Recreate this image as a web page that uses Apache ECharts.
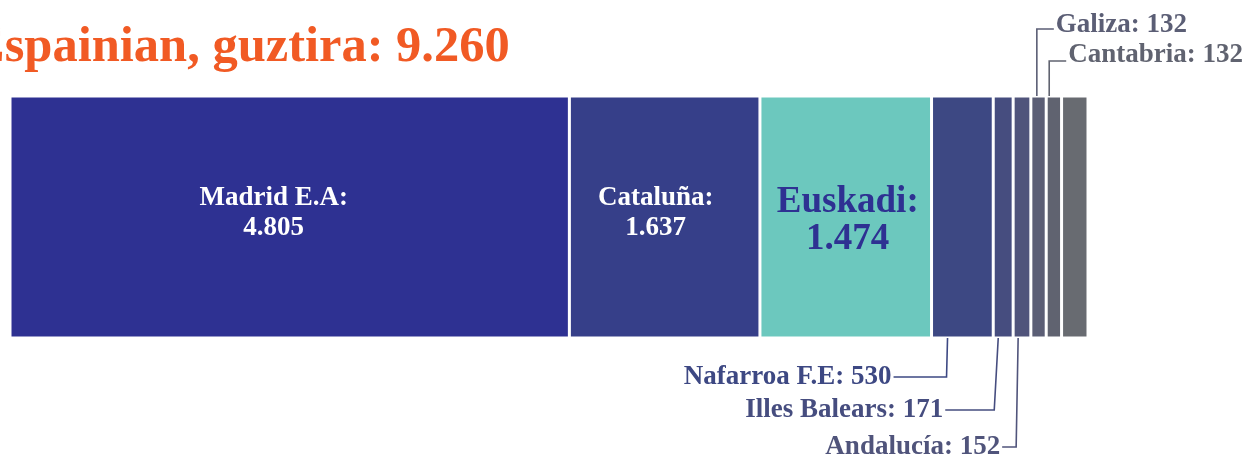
<!DOCTYPE html>
<html><head><meta charset="utf-8">
<script src="https://cdn.jsdelivr.net/npm/echarts@6/dist/echarts.min.js"></script>
<style>html,body{margin:0;padding:0;background:#fff;overflow:hidden}#c{width:1250px;height:460px}</style>
</head><body><div id="c"></div>
<script>
// ---- data ----
const titleText = 'Espainian, guztira: 9.260';
const total = 9260;
const regions = ['Madrid E.A', 'Cataluña', 'Euskadi', 'Nafarroa F.E', 'Illes Balears', 'Andalucía', 'Galiza', 'Cantabria', 'Beste'];
const values = [4805, 1637, 1474, 530, 171, 152, 132, 132, 227];

// ---- styles ----
const FONT = 'Liberation Serif';
const colors = ['#2e3192', '#363f89', '#6cc8be', '#3d4883', '#464d7f', '#50547b', '#5b5e75', '#606370', '#686b71'];
const GRID = { left: 10, right: 162, top: 96, bottom: 122 };
// inner labels (index -> style)
const inner = {
  0: { color: '#fff', fontSize: 27, lineHeight: 30, offset: [-16, -4] },
  1: { color: '#fff', fontSize: 27, lineHeight: 30, offset: [-9, -4] },
  2: { color: '#2e3192', fontSize: 37, lineHeight: 37, offset: [2, 4] }
};
// outer labels: side, line y, anchor offset from segment start, bottom slant, text gap
const outer = {
  3: { side: 'bottom', y: 377, dx: 16, slant: -1, gap: -55 },
  4: { side: 'bottom', y: 410, dx: 5, slant: -4, gap: -51 },
  5: { side: 'bottom', y: 447, dx: 5, slant: -2, gap: -16 },
  6: { side: 'top', y: 29, dx: 6, slant: 0, gap: 19, ty: -4 },
  7: { side: 'top', y: 61, dx: 3, slant: 0, gap: 19, ty: -6 }
};

function fmt(v) { return String(v).replace(/\B(?=(\d{3})+(?!\d))/g, '.'); }

const chart = echarts.init(document.getElementById('c'), null, { renderer: 'canvas' });
const series = regions.map((name, i) => ({
  type: 'bar', name: name, stack: 'total', barWidth: '100%',
  data: [values[i]],
  itemStyle: { color: colors[i], borderColor: '#fff', borderWidth: 1.5 },
  label: inner[i] ? {
    show: true, position: 'inside', fontFamily: FONT, fontWeight: 'bold',
    color: inner[i].color, fontSize: inner[i].fontSize, lineHeight: inner[i].lineHeight,
    offset: inner[i].offset, align: 'center',
    formatter: p => p.seriesName + ':\n' + fmt(p.value)
  } : { show: false }
}));

chart.setOption({
  animation: false,
  backgroundColor: '#fff',
  grid: GRID,
  xAxis: { type: 'value', min: 0, max: total, show: false },
  yAxis: { type: 'category', data: ['Espainia'], show: false },
  series: series
});

// leader lines + outer labels built from the axis scale
const graphics = [{
  type: 'text', x: -29, y: 48,
  style: { text: titleText, fill: '#f15a24', fontFamily: FONT, fontWeight: 'bold', fontSize: 50.5, textAlign: 'left', textVerticalAlign: 'middle' }
}];
const barTop = GRID.top, barBottom = 460 - GRID.bottom;
let cum = 0;
values.forEach((v, i) => {
  const x0 = chart.convertToPixel({ gridIndex: 0 }, [cum, 0])[0];
  cum += v;
  const o = outer[i];
  if (!o) return;
  const ax = x0 + o.dx;
  const bx = ax + o.slant;
  const tx = bx + o.gap;
  const edge = o.side === 'bottom' ? barBottom : barTop;
  const lineEnd = o.gap < 0 ? tx + 2 : tx - 2;
  graphics.push({
    type: 'polyline', silent: true,
    shape: { points: [[ax, edge], [bx, o.y], [lineEnd, o.y]] },
    style: { stroke: colors[i], lineWidth: 1.6, fill: null }
  });
  graphics.push({
    type: 'text', x: tx, y: o.y + (o.ty || 0),
    style: {
      text: regions[i] + ': ' + fmt(v), fill: colors[i], fontFamily: FONT, fontWeight: 'bold', fontSize: 27,
      textAlign: o.gap < 0 ? 'right' : 'left', textVerticalAlign: 'middle'
    }
  });
});
chart.setOption({ graphic: graphics });
</script></body></html>
